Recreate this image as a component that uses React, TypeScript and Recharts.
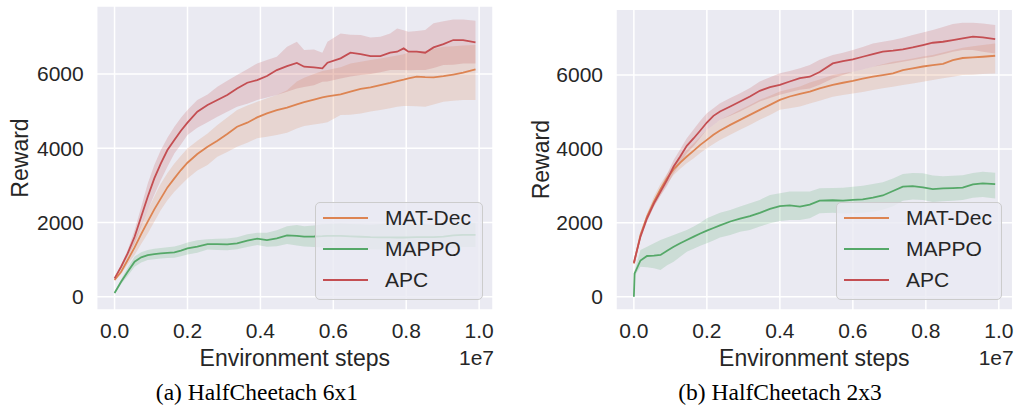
import React from "react";
import {
  ComposedChart,
  Line,
  Area,
  XAxis,
  YAxis,
  CartesianGrid,
  Legend,
  Label,
} from "recharts";

const SANS = '"Liberation Sans", Arial, Helvetica, sans-serif';
const SERIF = '"Liberation Serif", "Times New Roman", serif';
const INK = "#262626";

const SERIES = [
  { key: "matDec", name: "MAT-Dec", color: "#dd8452" },
  { key: "mappo", name: "MAPPO", color: "#55a868" },
  { key: "apc", name: "APC", color: "#c44e52" },
];

const X_TICKS = [0, 0.2, 0.4, 0.6, 0.8, 1.0];
const Y_TICKS = [0, 2000, 4000, 6000];

/* ---------- HalfCheetach 6x1 (steps in units of 1e7) ---------- */
const steps6x1 = [
  0, 0.018, 0.036, 0.055, 0.073, 0.091, 0.109, 0.127, 0.145, 0.164, 0.182, 0.2, 0.227, 0.255,
  0.282, 0.309, 0.336, 0.364, 0.391, 0.418, 0.445, 0.473, 0.5, 0.52, 0.547, 0.57, 0.584, 0.62,
  0.647, 0.675, 0.702, 0.729, 0.756, 0.775, 0.793, 0.806, 0.829, 0.852, 0.875, 0.902, 0.929,
  0.956, 0.99,
];
const apc6x1 = [
  494, 808, 1167, 1616, 2155, 2694, 3188, 3592, 3951, 4221, 4472, 4688, 4984, 5163, 5298, 5433,
  5612, 5765, 5837, 5945, 6106, 6214, 6300, 6196, 6178, 6151, 6304, 6421, 6573, 6537, 6484, 6484,
  6573, 6601, 6690, 6601, 6601, 6573, 6717, 6807, 6915, 6915, 6852,
];
const apcHi6x1 = [
  520, 860, 1260, 1796, 2420, 3053, 3550, 3951, 4280, 4580, 4820, 5029, 5300, 5450, 5657, 5820,
  5972, 6130, 6286, 6380, 6466, 6735, 6870, 6645, 6663, 6573, 6870, 7094, 7060, 7049, 6986, 7004,
  7094, 7229, 7180, 7139, 7160, 7184, 7364, 7420, 7471, 7471, 7435,
];
const apcLo6x1 = [
  470, 760, 1080, 1437, 1900, 2335, 2750, 3143, 3500, 3861, 4100, 4355, 4550, 4700, 4849, 4980,
  5119, 5200, 5298, 5370, 5433, 5520, 5612, 5650, 5700, 5792, 5800, 5880, 5930, 5972, 6000, 6050,
  6106, 6110, 6106, 6100, 6106, 6106, 6160, 6241, 6250, 6280, 6286,
];
const matDec6x1 = [
  450, 673, 988, 1329, 1688, 2021, 2353, 2649, 2945, 3188, 3412, 3610, 3843, 4041, 4203, 4382,
  4580, 4688, 4831, 4939, 5029, 5092, 5180, 5240, 5310, 5370, 5400, 5450, 5523, 5600, 5640, 5702,
  5760, 5810, 5850, 5882, 5927, 5915, 5909, 5940, 5985, 6035, 6124,
];
const matDecHi6x1 = [
  470, 740, 1100, 1527, 1930, 2335, 2700, 3053, 3330, 3592, 3800, 3996, 4200, 4400, 4625, 4830,
  5029, 5150, 5253, 5350, 5433, 5560, 5800, 5900, 6000, 6080, 6106, 6180, 6286, 6330, 6380, 6420,
  6466, 6500, 6530, 6580, 6600, 6620, 6680, 6735, 6750, 6770, 6780,
];
const matDecLo6x1 = [
  420, 610, 870, 1123, 1420, 1706, 2020, 2335, 2600, 2829, 3010, 3188, 3400, 3550, 3772, 3900,
  4041, 4150, 4266, 4310, 4355, 4420, 4530, 4600, 4640, 4670, 4700, 4894, 4900, 4939, 4990, 5029,
  5080, 5119, 5137, 5137, 5130, 5119, 5180, 5253, 5280, 5298, 5298,
];
const mappo6x1 = [
  100, 404, 674, 943, 1060, 1123, 1150, 1167, 1180, 1194, 1240, 1300, 1347, 1419, 1415, 1410,
  1437, 1509, 1563, 1527, 1572, 1652, 1640, 1620, 1622, 1630, 1640, 1640, 1625, 1615, 1604, 1600,
  1598, 1595, 1595, 1600, 1604, 1604, 1604, 1620, 1650, 1667, 1667,
];
const mappoHi6x1 = [
  130, 470, 790, 1080, 1200, 1257, 1290, 1310, 1330, 1350, 1400, 1460, 1520, 1545, 1560, 1570,
  1600, 1680, 1724, 1720, 1790, 1900, 1931, 1900, 1920, 1950, 1960, 1970, 1960, 1950, 1940, 1960,
  1970, 1980, 1975, 1970, 1960, 1950, 1940, 1960, 1990, 2000, 1990,
];
const mappoLo6x1 = [
  70, 340, 560, 810, 920, 990, 1010, 1030, 1040, 1050, 1090, 1140, 1185, 1270, 1260, 1250, 1280,
  1340, 1390, 1347, 1360, 1420, 1380, 1350, 1340, 1330, 1320, 1310, 1300, 1290, 1280, 1270, 1260,
  1250, 1255, 1260, 1270, 1280, 1290, 1300, 1320, 1340, 1340,
];

/* ---------- HalfCheetach 2x3 ---------- */
const steps2x3 = [
  0, 0.002, 0.018, 0.036, 0.055, 0.073, 0.091, 0.109, 0.127, 0.145, 0.164, 0.182, 0.2, 0.218,
  0.236, 0.264, 0.291, 0.318, 0.345, 0.373, 0.4, 0.427, 0.455, 0.482, 0.509, 0.545, 0.573, 0.6,
  0.627, 0.655, 0.682, 0.71, 0.737, 0.764, 0.792, 0.819, 0.847, 0.874, 0.901, 0.929, 0.956, 0.99,
];
const apc2x3 = [
  920, 1000, 1625, 2122, 2528, 2844, 3160, 3522, 3793, 4082, 4289, 4497, 4714, 4894, 5012, 5147,
  5283, 5418, 5572, 5671, 5734, 5824, 5915, 5953, 6080, 6314, 6377, 6422, 6494, 6567, 6630, 6657,
  6693, 6747, 6810, 6873, 6900, 6945, 6990, 7036, 7018, 6972,
];
const apcHi2x3 = [
  940, 1030, 1700, 2220, 2619, 2960, 3320, 3702, 3990, 4289, 4530, 4760, 4967, 5100, 5237, 5380,
  5508, 5650, 5824, 5940, 6050, 6110, 6186, 6269, 6411, 6540, 6600, 6675, 6760, 6855, 6900, 6945,
  7010, 7081, 7150, 7216, 7300, 7378, 7414, 7414, 7396, 7351,
];
const apcLo2x3 = [
  900, 970, 1550, 2030, 2438, 2730, 3000, 3341, 3600, 3883, 4080, 4300, 4515, 4650, 4786, 4900,
  5012, 5150, 5283, 5380, 5463, 5530, 5599, 5637, 5734, 5908, 6000, 6088, 6150, 6224, 6270, 6314,
  6360, 6404, 6450, 6494, 6560, 6630, 6675, 6675, 6630, 6585,
];
const matDec2x3 = [
  900, 980, 1671, 2167, 2574, 2908, 3206, 3450, 3630, 3793, 3955, 4109, 4244, 4380, 4497, 4650,
  4786, 4921, 5057, 5192, 5328, 5418, 5490, 5553, 5640, 5730, 5790, 5840, 5900, 5953, 5998, 6043,
  6134, 6179, 6230, 6265, 6300, 6400, 6460, 6475, 6494, 6521,
];
const matDecHi2x3 = [
  920, 1010, 1740, 2260, 2709, 3060, 3330, 3567, 3780, 3973, 4150, 4330, 4515, 4650, 4786, 4920,
  5057, 5190, 5328, 5440, 5553, 5620, 5690, 5800, 5880, 5998, 6050, 6088, 6150, 6224, 6290, 6359,
  6400, 6449, 6500, 6540, 6610, 6675, 6740, 6780, 6810, 6855,
];
const matDecLo2x3 = [
  880, 950, 1600, 2080, 2438, 2750, 3050, 3296, 3460, 3612, 3750, 3890, 4018, 4130, 4244, 4380,
  4515, 4650, 4786, 4920, 5057, 5100, 5147, 5230, 5300, 5412, 5460, 5502, 5540, 5592, 5640, 5683,
  5730, 5773, 5820, 5863, 5910, 5953, 5998, 6010, 6025, 6043,
];
const mappo2x3 = [
  0, 632, 980, 1102, 1111, 1129, 1246, 1350, 1445, 1535, 1625, 1710, 1788, 1860, 1930, 2035, 2110,
  2180, 2270, 2375, 2450, 2470, 2440, 2490, 2601, 2610, 2598, 2620, 2634, 2680, 2740, 2860, 2977,
  2990, 2960, 2913, 2931, 2940, 2950, 3040, 3067, 3049,
];
const mappoHi2x3 = [
  0, 700, 1264, 1350, 1445, 1535, 1600, 1671, 1740, 1806, 1900, 2000, 2122, 2200, 2270, 2348,
  2440, 2528, 2620, 2754, 2800, 2844, 2844, 2850, 2935, 2940, 2950, 2977, 3000, 3050, 3100, 3200,
  3320, 3350, 3340, 3280, 3260, 3270, 3290, 3350, 3380, 3355,
];
const mappoLo2x3 = [
  0, 560, 813, 800, 768, 722, 850, 948, 1080, 1219, 1300, 1380, 1445, 1520, 1600, 1671, 1760,
  1806, 1900, 1987, 2050, 2077, 2077, 2122, 2258, 2270, 2255, 2260, 2270, 2300, 2350, 2450, 2600,
  2630, 2620, 2560, 2580, 2600, 2620, 2680, 2700, 2660,
];

type Row = Record<string, number | number[]>;

function buildRows(
  steps: number[],
  matDec: number[][],
  mappo: number[][],
  apc: number[][]
): Row[] {
  // each group: [mean, lo, hi]
  return steps.map((step, i) => ({
    step,
    matDec: matDec[0][i],
    matDecBand: [matDec[1][i], matDec[2][i]],
    mappo: mappo[0][i],
    mappoBand: [mappo[1][i], mappo[2][i]],
    apc: apc[0][i],
    apcBand: [apc[1][i], apc[2][i]],
  }));
}

const rows6x1 = buildRows(
  steps6x1,
  [matDec6x1, matDecLo6x1, matDecHi6x1],
  [mappo6x1, mappoLo6x1, mappoHi6x1],
  [apc6x1, apcLo6x1, apcHi6x1]
);
const rows2x3 = buildRows(
  steps2x3,
  [matDec2x3, matDecLo2x3, matDecHi2x3],
  [mappo2x3, mappoLo2x3, mappoHi2x3],
  [apc2x3, apcLo2x3, apcHi2x3]
);

function LegendBox() {
  return (
    <div
      style={{
        boxSizing: "border-box",
        position: "relative",
        width: "100%",
        height: "100%",
        border: "1px solid #cccccc",
        borderRadius: 5,
        background: "rgba(234,234,242,0.8)",
        fontFamily: SANS,
        fontSize: 21,
        color: INK,
      }}
    >
      {SERIES.map((s, i) => (
        <div
          key={s.key}
          style={{ position: "absolute", left: 0, right: 0, top: 31 * i - 1, height: 31 }}
        >
          <div
            style={{
              position: "absolute",
              left: 7,
              top: 14.5,
              width: 45,
              height: 2,
              background: s.color,
            }}
          />
          <span style={{ position: "absolute", left: 69, top: 0, lineHeight: "31px", whiteSpace: "nowrap" }}>
            {s.name}
          </span>
        </div>
      ))}
    </div>
  );
}

type PanelProps = {
  rows: Row[];
  left: number;
  width: number;
  plotLeft: number;
  plotTop: number;
  plotRight: number;
  yDomain: [number, number];
  yLabelX: number;
  legendLeft: number;
  legendWidth: number;
};

const HEIGHT = 408;
const PLOT_BOTTOM = 310;

function Panel({
  rows,
  left,
  width,
  plotLeft,
  plotTop,
  plotRight,
  yDomain,
  yLabelX,
  legendLeft,
  legendWidth,
}: PanelProps) {
  const midX = (plotLeft + plotRight) / 2;
  const midY = (plotTop + PLOT_BOTTOM) / 2;
  const tick = { fontSize: 21, fill: INK, fontFamily: SANS };
  return (
    <div style={{ position: "absolute", left, top: 0 }}>
      <ComposedChart
        width={width}
        height={HEIGHT}
        data={rows}
        margin={{ top: plotTop, right: width - plotRight, bottom: 0, left: 0 }}
      >
        <CartesianGrid fill="#eaeaf2" stroke="#ffffff" strokeWidth={1.5} />
        <XAxis
          type="number"
          dataKey="step"
          domain={[-0.049, 1.038]}
          allowDataOverflow
          ticks={X_TICKS}
          tickFormatter={(v) => Number(v).toFixed(1)}
          axisLine={false}
          tickLine={false}
          tickSize={0}
          tickMargin={13}
          height={HEIGHT - PLOT_BOTTOM}
          tick={tick}
        >
          <Label
            content={() => (
              <g>
                <text x={midX} y={366} textAnchor="middle" fontSize={23} fill={INK} fontFamily={SANS}>
                  Environment steps
                </text>
                <text x={plotRight + 1} y={365} textAnchor="end" fontSize={21} fill={INK} fontFamily={SANS}>
                  1e7
                </text>
              </g>
            )}
          />
        </XAxis>
        <YAxis
          type="number"
          domain={yDomain}
          allowDataOverflow
          ticks={Y_TICKS}
          axisLine={false}
          tickLine={false}
          tickSize={0}
          tickMargin={13}
          width={plotLeft}
          tick={tick}
        >
          <Label
            content={() => (
              <text
                x={yLabelX}
                y={midY}
                transform={`rotate(-90, ${yLabelX}, ${midY})`}
                textAnchor="middle"
                fontSize={23}
                fill={INK}
                fontFamily={SANS}
              >
                Reward
              </text>
            )}
          />
        </YAxis>
        {SERIES.map((s) => (
          <Area
            key={s.key + "Band"}
            type="linear"
            dataKey={s.key + "Band"}
            stroke="none"
            fill={s.color}
            fillOpacity={0.2}
            legendType="none"
            activeDot={false}
            isAnimationActive={false}
          />
        ))}
        {SERIES.map((s) => (
          <Line
            key={s.key}
            type="linear"
            dataKey={s.key}
            name={s.name}
            stroke={s.color}
            strokeWidth={1.8}
            dot={false}
            activeDot={false}
            isAnimationActive={false}
          />
        ))}
        <Legend
          layout="vertical"
          align="center"
          verticalAlign="middle"
          content={() => <LegendBox />}
          wrapperStyle={{ left: legendLeft, top: 202, width: legendWidth, height: 98, margin: 0 }}
        />
      </ComposedChart>
    </div>
  );
}

export default function App() {
  return (
    <div
      style={{
        position: "absolute",
        left: 0,
        top: 0,
        width: 1017,
        height: 408,
        background: "#ffffff",
        overflow: "hidden",
      }}
    >
      <Panel
        rows={rows6x1}
        left={0}
        width={510}
        plotLeft={96.7}
        plotTop={6}
        plotRight={493}
        yDomain={[-358, 7832]}
        yLabelX={28}
        legendLeft={315}
        legendWidth={168}
      />
      <Panel
        rows={rows2x3}
        left={510}
        width={507}
        plotLeft={106}
        plotTop={9.3}
        plotRight={502.7}
        yDomain={[-360, 7778]}
        yLabelX={39.3}
        legendLeft={326}
        legendWidth={166}
      />
      <svg
        width={1017}
        height={408}
        style={{ position: "absolute", left: 0, top: 0, pointerEvents: "none" }}
      >
        <text x={257} y={400} textAnchor="middle" fontSize={23.5} fontFamily={SERIF} fill="#000">
          (a) HalfCheetach 6x1
        </text>
        <text x={780} y={400} textAnchor="middle" fontSize={23.5} fontFamily={SERIF} fill="#000">
          (b) HalfCheetach 2x3
        </text>
      </svg>
    </div>
  );
}
